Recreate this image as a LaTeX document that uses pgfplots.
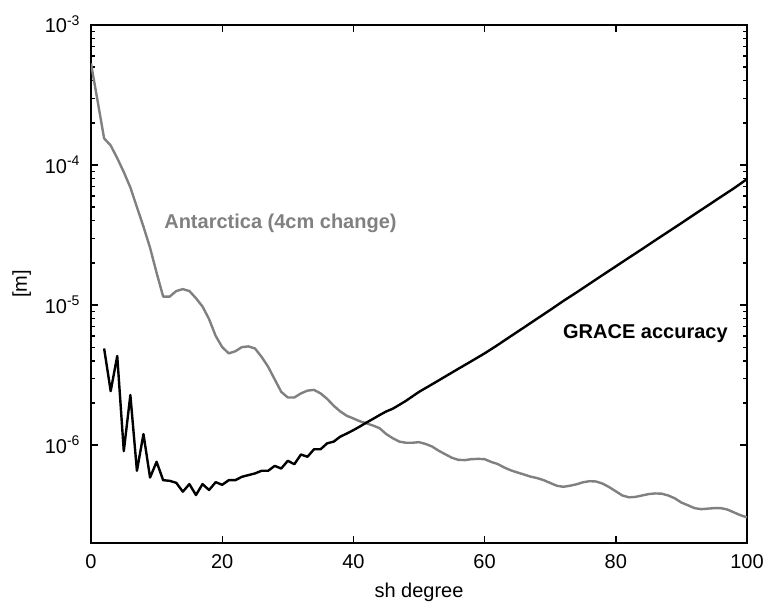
\documentclass[border=0pt]{standalone}
\usepackage{pgfplots}
\pgfplotsset{compat=1.18}
\usepackage{fontspec}
\setmainfont{Liberation Sans}
\definecolor{antgray}{RGB}{128,128,128}
\begin{document}
\begin{tikzpicture}[font=\fontsize{10}{12}\selectfont]
\useasboundingbox (-45.5pt,-29.5pt) rectangle (337pt,271.5pt);
\begin{axis}[
  at={(0,0)}, anchor=south west,
  scale only axis, width=328pt, height=259pt,
  ymode=log, xmin=0, xmax=100, ymin=2e-7, ymax=1e-3,
  /pgf/number format/assume math mode=true,
  xtick={0,20,40,60,80,100},
  ytick={1e-6,1e-5,1e-4,1e-3},
  yticklabels={10\textsuperscript{-6},10\textsuperscript{-5},10\textsuperscript{-4},10\textsuperscript{-3}},
  axis line style={line width=0.7pt},
  every tick/.style={line width=0.7pt, black},
  major tick length=3.5pt, minor tick length=2pt,
  tick align=inside,
  xticklabel style={yshift=-2.3pt},
  yticklabel style={anchor=base east, yshift=-4pt, xshift=-1.7pt},
  xlabel={sh degree}, ylabel={[m]},
  xlabel style={at={(axis description cs:0.5,-0.0946)}, anchor=center},
  ylabel style={at={(axis description cs:-0.1056,0.5)}, anchor=center},
  clip=true,
]
\addplot[antgray, line width=1.2pt, line join=round] coordinates {
(0,5.32e-4)(1,2.88e-4)(2,1.55e-4)(3,1.38e-4)(4,1.12e-4)(5,8.91e-5)(6,6.92e-5)(7,5.01e-5)(8,3.63e-5)(9,2.57e-5)
(10,1.70e-5)(11,1.15e-5)(12,1.15e-5)(13,1.26e-5)(14,1.30e-5)(15,1.26e-5)(16,1.12e-5)(17,9.77e-6)(18,7.94e-6)(19,6.03e-6)
(20,5.01e-6)(21,4.52e-6)(22,4.68e-6)(23,5.01e-6)(24,5.07e-6)(25,4.90e-6)(26,4.27e-6)(27,3.63e-6)(28,2.95e-6)(29,2.40e-6)
(30,2.19e-6)(31,2.19e-6)(32,2.34e-6)(33,2.45e-6)(34,2.48e-6)(35,2.34e-6)(36,2.14e-6)(37,1.91e-6)(38,1.74e-6)(39,1.62e-6)
(40,1.55e-6)(41,1.48e-6)(42,1.43e-6)(43,1.38e-6)(44,1.32e-6)(45,1.20e-6)(46,1.12e-6)(47,1.06e-6)(48,1.04e-6)(49,1.04e-6)
(50,1.05e-6)(51,1.02e-6)(52,9.77e-7)(53,9.12e-7)(54,8.61e-7)(55,8.13e-7)(56,7.85e-7)(57,7.82e-7)(58,7.94e-7)(59,7.98e-7)
(60,7.94e-7)(61,7.59e-7)(62,7.33e-7)(63,6.92e-7)(64,6.61e-7)(65,6.38e-7)(66,6.17e-7)(67,5.96e-7)(68,5.82e-7)(69,5.62e-7)
(70,5.37e-7)(71,5.13e-7)(72,5.04e-7)(73,5.13e-7)(74,5.25e-7)(75,5.43e-7)(76,5.53e-7)(77,5.50e-7)(78,5.31e-7)(79,5.01e-7)
(80,4.68e-7)(81,4.37e-7)(82,4.24e-7)(83,4.27e-7)(84,4.37e-7)(85,4.47e-7)(86,4.52e-7)(87,4.50e-7)(88,4.37e-7)(89,4.17e-7)
(90,3.89e-7)(91,3.72e-7)(92,3.55e-7)(93,3.49e-7)(94,3.52e-7)(95,3.55e-7)(96,3.55e-7)(97,3.47e-7)(98,3.31e-7)(99,3.16e-7)
(100,3.05e-7)
};
\addplot[black, line width=1.2pt, line join=round] coordinates {
(2,4.90e-6)(3,2.43e-6)(4,4.33e-6)(5,9.06e-7)(6,2.28e-6)(7,6.56e-7)(8,1.20e-6)(9,5.87e-7)
(10,7.60e-7)(11,5.62e-7)(12,5.56e-7)(13,5.38e-7)(14,4.65e-7)(15,5.27e-7)(16,4.40e-7)(17,5.27e-7)(18,4.78e-7)(19,5.44e-7)
(20,5.21e-7)(21,5.62e-7)(22,5.62e-7)(23,5.94e-7)(24,6.11e-7)(25,6.28e-7)(26,6.56e-7)(27,6.56e-7)(28,7.11e-7)(29,6.81e-7)
(30,7.73e-7)(31,7.31e-7)(32,8.57e-7)(33,8.26e-7)(34,9.35e-7)(35,9.35e-7)(36,1.03e-6)(37,1.06e-6)(38,1.15e-6)(39,1.21e-6)
(40,1.28e-6)(41,1.36e-6)(42,1.45e-6)(43,1.54e-6)(44,1.64e-6)(45,1.74e-6)(46,1.82e-6)(47,1.94e-6)(48,2.07e-6)(49,2.23e-6)
(50,2.40e-6)(52,2.72e-6)(54,3.09e-6)(56,3.51e-6)(58,3.98e-6)(60,4.52e-6)(62,5.19e-6)(64,6.00e-6)(66,6.92e-6)(68,8.00e-6)
(70,9.23e-6)(72,1.07e-5)(74,1.23e-5)(76,1.42e-5)(78,1.64e-5)(80,1.89e-5)(82,2.18e-5)(84,2.51e-5)(86,2.90e-5)(88,3.34e-5)
(90,3.85e-5)(92,4.45e-5)(94,5.13e-5)(96,5.92e-5)(98,6.82e-5)(100,7.94e-5)
};
\node[anchor=west, font=\fontsize{10}{12}\selectfont\bfseries, text=antgray] at (axis cs:10.1,3.83e-5) {Antarctica (4cm change)};
\node[anchor=west, font=\fontsize{10}{12}\selectfont\bfseries, text=black] at (axis cs:70.9,6.28e-6) {GRACE accuracy};
\end{axis}
\end{tikzpicture}
\end{document}
